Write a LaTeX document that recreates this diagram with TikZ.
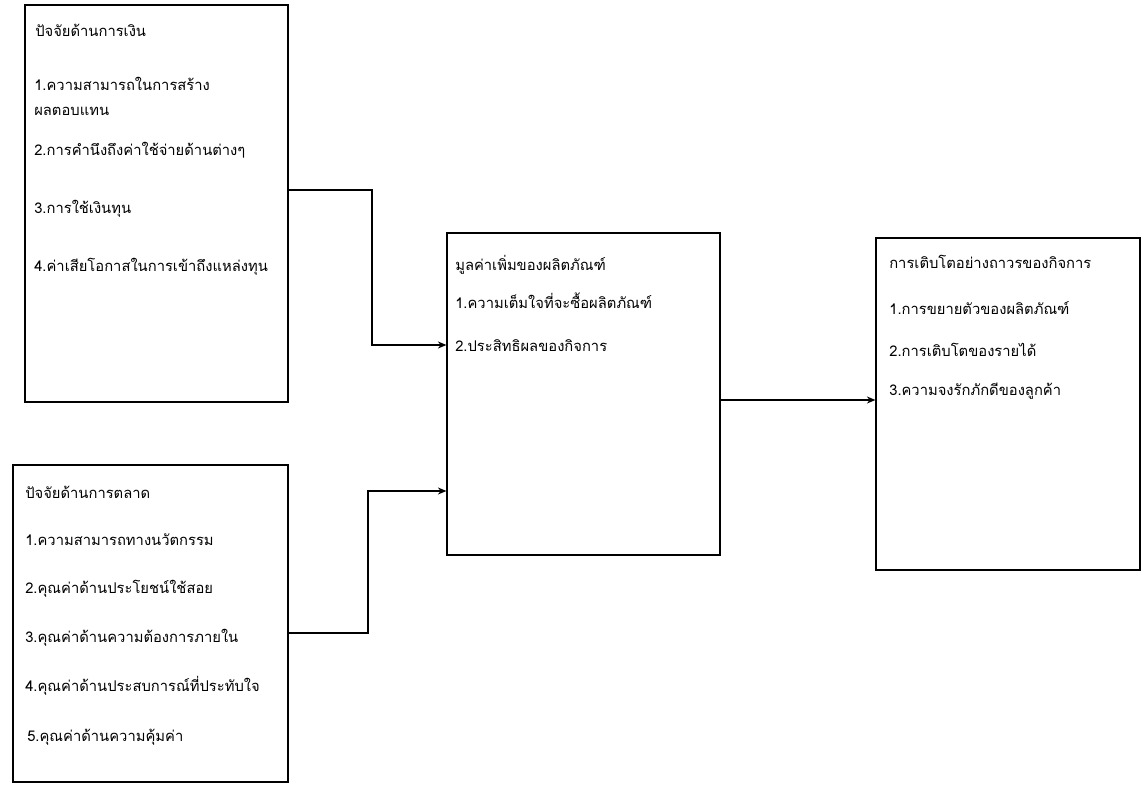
\documentclass[tikz,border=0pt]{standalone}
\usepackage{fontspec}
\newfontfamily\thaifont[Script=Thai]{Loma}
\usetikzlibrary{arrows.meta, positioning, fit}

\begin{document}
\begin{tikzpicture}[x=0.025cm, y=-0.025cm,
    box/.style={draw, line width=0.9pt, inner sep=0pt},
    txt/.style={anchor=west, inner sep=0pt, font=\thaifont\fontsize{10.5}{12}\selectfont},
    link/.style={-{Stealth[length=6pt, width=5pt]}, line width=0.9pt}]
  \useasboundingbox (0,0) rectangle (1143,787);

  % Boxes
  \node[box, fit={(25,5) (288,402)}] (fin) {};
  \node[box, fit={(13,465) (288,782)}] (mkt) {};
  \node[box, fit={(447,233) (720,555)}] (val) {};
  \node[box, fit={(876,238) (1140,570)}] (grow) {};

  % Finance factors
  \node[txt] (fin0) at (35,30) {ปัจจัยด้านการเงิน};
  \node[txt] (fin1) at (34,84) {1.ความสามารถในการสร้าง};
  \node[txt] (fin1b) at (34,111) {ผลตอบแทน};
  \node[txt] (fin2) at (34,150) {2.การคำนึงถึงค่าใช้จ่ายด้านต่างๆ};
  \node[txt] (fin3) at (34,209) {3.การใช้เงินทุน};
  \node[txt] (fin4) at (34,267) {4.ค่าเสียโอกาสในการเข้าถึงแหล่งทุน};

  % Marketing factors
  \node[txt] (mkt0) at (25,492) {ปัจจัยด้านการตลาด};
  \node[txt] (mkt1) at (25,540) {1.ความสามารถทางนวัตกรรม};
  \node[txt] (mkt2) at (25,589) {2.คุณค่าด้านประโยชน์ใช้สอย};
  \node[txt] (mkt3) at (25,638) {3.คุณค่าด้านความต้องการภายใน};
  \node[txt] (mkt4) at (25,686) {4.คุณค่าด้านประสบการณ์ที่ประทับใจ};
  \node[txt] (mkt5) at (27,737) {5.คุณค่าด้านความคุ้มค่า};

  % Added value
  \node[txt] (val0) at (455,265) {มูลค่าเพิ่มของผลิตภัณฑ์};
  \node[txt] (val1) at (455,301) {1.ความเต็มใจที่จะซื้อผลิตภัณฑ์};
  \node[txt] (val2) at (455,346) {2.ประสิทธิผลของกิจการ};

  % Sustainable growth
  \node[txt] (grow0) at (889,262) {การเติบโตอย่างถาวรของกิจการ};
  \node[txt] (grow1) at (889,308) {1.การขยายตัวของผลิตภัณฑ์};
  \node[txt] (grow2) at (889,350) {2.การเติบโตของรายได้};
  \node[txt] (grow3) at (889,391) {3.ความจงรักภักดีของลูกค้า};

  % Connectors
  \coordinate (b1) at (372,190);
  \coordinate (b2) at (372,345);
  \coordinate (b3) at (368,633);
  \coordinate (b4) at (368,491);
  \coordinate (b5) at (720,400);
  \draw[link] (b1 -| fin.east) -- (b1) -- (b2) -- (b2 -| val.west);
  \draw[link] (b3 -| mkt.east) -- (b3) -- (b4) -- (b4 -| val.west);
  \draw[link] (b5 -| val.east) -- (b5 -| grow.west);
\end{tikzpicture}
\end{document}
